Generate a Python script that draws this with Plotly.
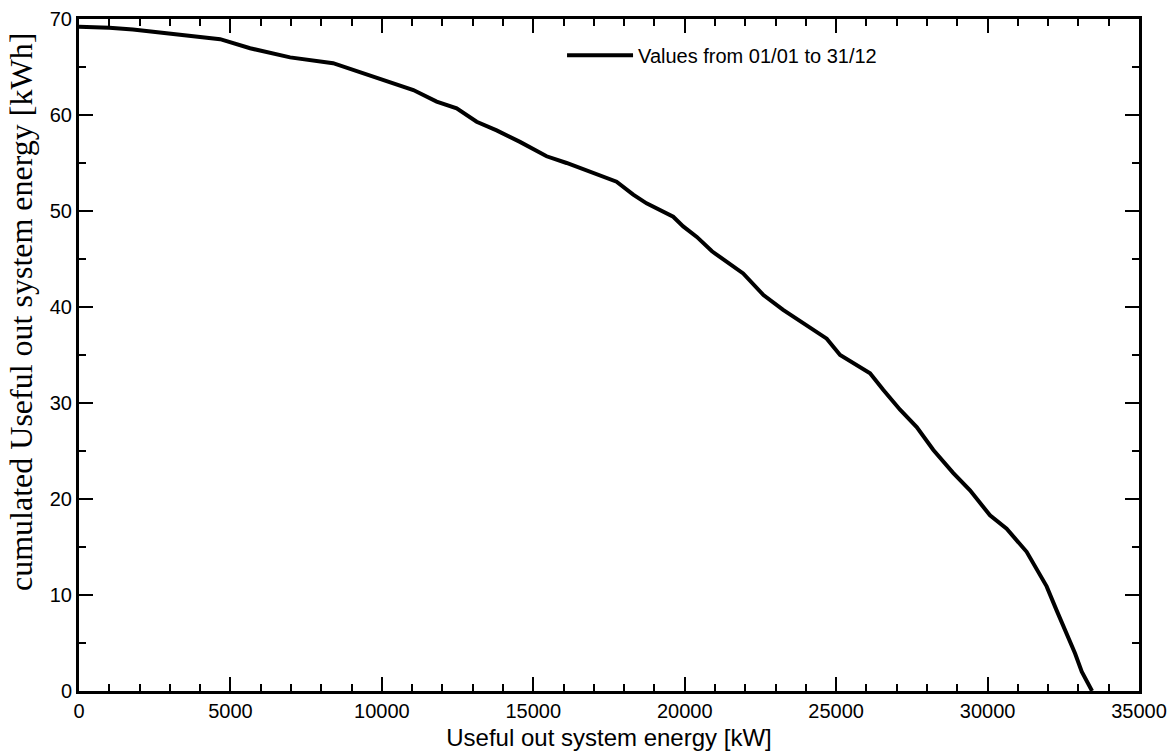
import plotly.graph_objects as go

# Values
power_kw = [0, 1000, 1780, 3430, 4660, 5650, 6970, 8390, 9510, 9940,
            11040, 11810, 12470, 13130, 13790, 14560, 15440, 16100, 16980, 17750,
            18300, 18740, 19620, 19950, 20400, 20900, 21930, 22600, 23250, 24030,
            24690, 25130, 26120, 26560, 27110, 27660, 28210, 28870, 29420, 30080,
            30630, 31290, 31620, 31950, 32280, 32610, 32890, 33110, 33450]
cum_energy_kwh = [69.2, 69.1, 68.9, 68.3, 67.9, 66.95, 66.0, 65.4, 64.2, 63.7,
                  62.6, 61.4, 60.7, 59.3, 58.4, 57.2, 55.7, 55.0, 54.0, 53.05,
                  51.7, 50.8, 49.4, 48.4, 47.3, 45.8, 43.5, 41.25, 39.7, 38.1,
                  36.7, 35.0, 33.1, 31.35, 29.3, 27.5, 25.1, 22.7, 20.9, 18.3,
                  16.9, 14.5, 12.6, 10.9, 8.4, 6.0, 3.9, 2.0, 0.0]
series_name = "Values from 01/01 to 31/12"
x_title = "Useful out system energy [kW]"
y_title = "cumulated Useful out system energy [kWh]"

fig = go.Figure()
fig.add_trace(go.Scatter(
    x=power_kw, y=cum_energy_kwh, mode="lines", name=series_name,
    line=dict(color="black", width=4),
))

axis_common = dict(
    showline=True, linecolor="black", linewidth=3, mirror="allticks",
    ticks="inside", ticklen=14, tickwidth=1.5, tickcolor="black",
    showgrid=False, zeroline=False, automargin=False,
    tickfont=dict(family="Liberation Sans, Arial", size=20, color="black"),
)

fig.update_layout(
    width=1176, height=754,
    margin=dict(l=79, r=37, t=19, b=63),
    paper_bgcolor="white", plot_bgcolor="white",
    showlegend=True,
    legend=dict(
        x=0.4557, y=0.946, xanchor="left", yanchor="middle",
        bgcolor="rgba(0,0,0,0)", itemwidth=66,
        font=dict(family="Liberation Sans, Arial", size=20, color="black"),
    ),
    xaxis=dict(
        range=[0, 35000], dtick=5000, tickformat="d",
        title=dict(text=x_title, standoff=9,
                   font=dict(family="Liberation Sans, Arial", size=24, color="black")),
        minor=dict(dtick=1000, ticks="inside", ticklen=7, tickwidth=1.5, tickcolor="black"),
        **axis_common,
    ),
    yaxis=dict(
        range=[0, 70], dtick=10,
        minor=dict(dtick=5, ticks="inside", ticklen=7, tickwidth=1.5, tickcolor="black"),
        **axis_common,
    ),
    annotations=[dict(
        text=y_title, textangle=-90, showarrow=False,
        xref="paper", yref="paper", x=-0.0547, y=0.564,
        xanchor="center", yanchor="middle",
        font=dict(family="Liberation Serif, Times New Roman", size=32, color="black"),
    )],
)

fig.write_html("out.html", config={"displayModeBar": False},
               post_script="document.body.style.margin='0px';")
